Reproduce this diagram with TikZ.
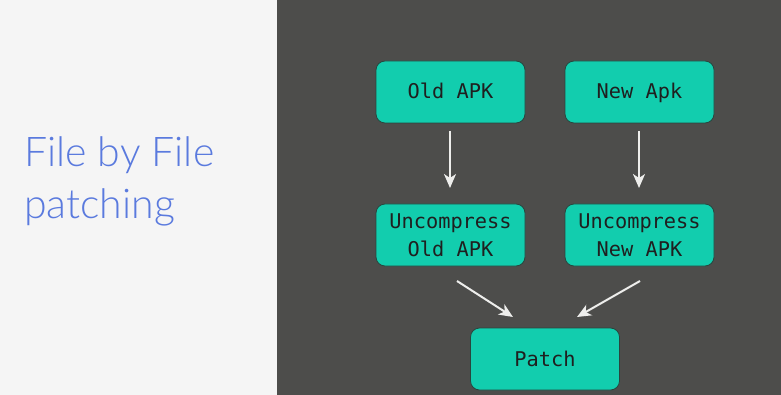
\documentclass[tikz,border=0pt]{standalone}
\usepackage{fontspec}
\setmainfont{Lato}
\newfontfamily\titlefont{Lato Light}
\newfontfamily\codefont{DejaVu Sans Mono}
\usetikzlibrary{arrows.meta}
\definecolor{panelL}{RGB}{245,245,245}
\definecolor{panelR}{RGB}{77,77,75}
\definecolor{boxfill}{RGB}{18,205,174}
\definecolor{boxedge}{RGB}{40,70,62}
\definecolor{titleblue}{RGB}{90,122,222}
\definecolor{arrowc}{RGB}{238,238,236}
% fixed line box so every label sits at the same height
\newcommand\bxstrut{\rule[-6.5pt]{0pt}{27pt}}
\tikzset{
  stepbox/.style={draw=boxedge, line width=0.8pt, fill=boxfill, rounded corners=9pt,
    minimum width=149pt, minimum height=62pt, inner sep=0pt, align=center,
    font=\codefont\fontsize{20.3}{28}\selectfont, text=black!88},
  flow/.style={draw=arrowc, line width=2pt, -{Stealth[length=14pt,width=12pt,inset=4pt]}},
  title/.style={anchor=base west, inner sep=0pt, text=titleblue, font=\titlefont\fontsize{41}{48}\selectfont}
}
\begin{document}
\begin{tikzpicture}[x=1pt,y=-1pt]
\useasboundingbox (0,0) rectangle (781,395);
% background panels
\fill[panelL] (0,0) rectangle (277,395);
\fill[panelR] (277,0) rectangle (781,395);
% title
\node[title] (t1) at (24,167) {File by File};
\node[title] (t2) at (24,219) {patching};
% boxes
\node[stepbox] (old) at (450.5,92) {\bxstrut Old APK};
\node[stepbox] (new) at (639.5,92) {\bxstrut New Apk};
\node[stepbox] (uold) at (450.5,235) {\bxstrut Uncompress\\\bxstrut Old APK};
\node[stepbox] (unew) at (639.5,235) {\bxstrut Uncompress\\\bxstrut New APK};
\node[stepbox] (patch) at (545,359) {\bxstrut Patch};
% arrow endpoints
\coordinate (a1s) at (450,131); \coordinate (a1e) at (450,188);
\coordinate (a2s) at (639,131); \coordinate (a2e) at (639,188);
\coordinate (a3s) at (457,281); \coordinate (a3e) at (513,317);
\coordinate (a4s) at (640,281); \coordinate (a4e) at (577,317);
\draw[flow] (a1s) -- (a1e);
\draw[flow] (a2s) -- (a2e);
\draw[flow] (a3s) -- (a3e);
\draw[flow] (a4s) -- (a4e);
\end{tikzpicture}
\end{document}
